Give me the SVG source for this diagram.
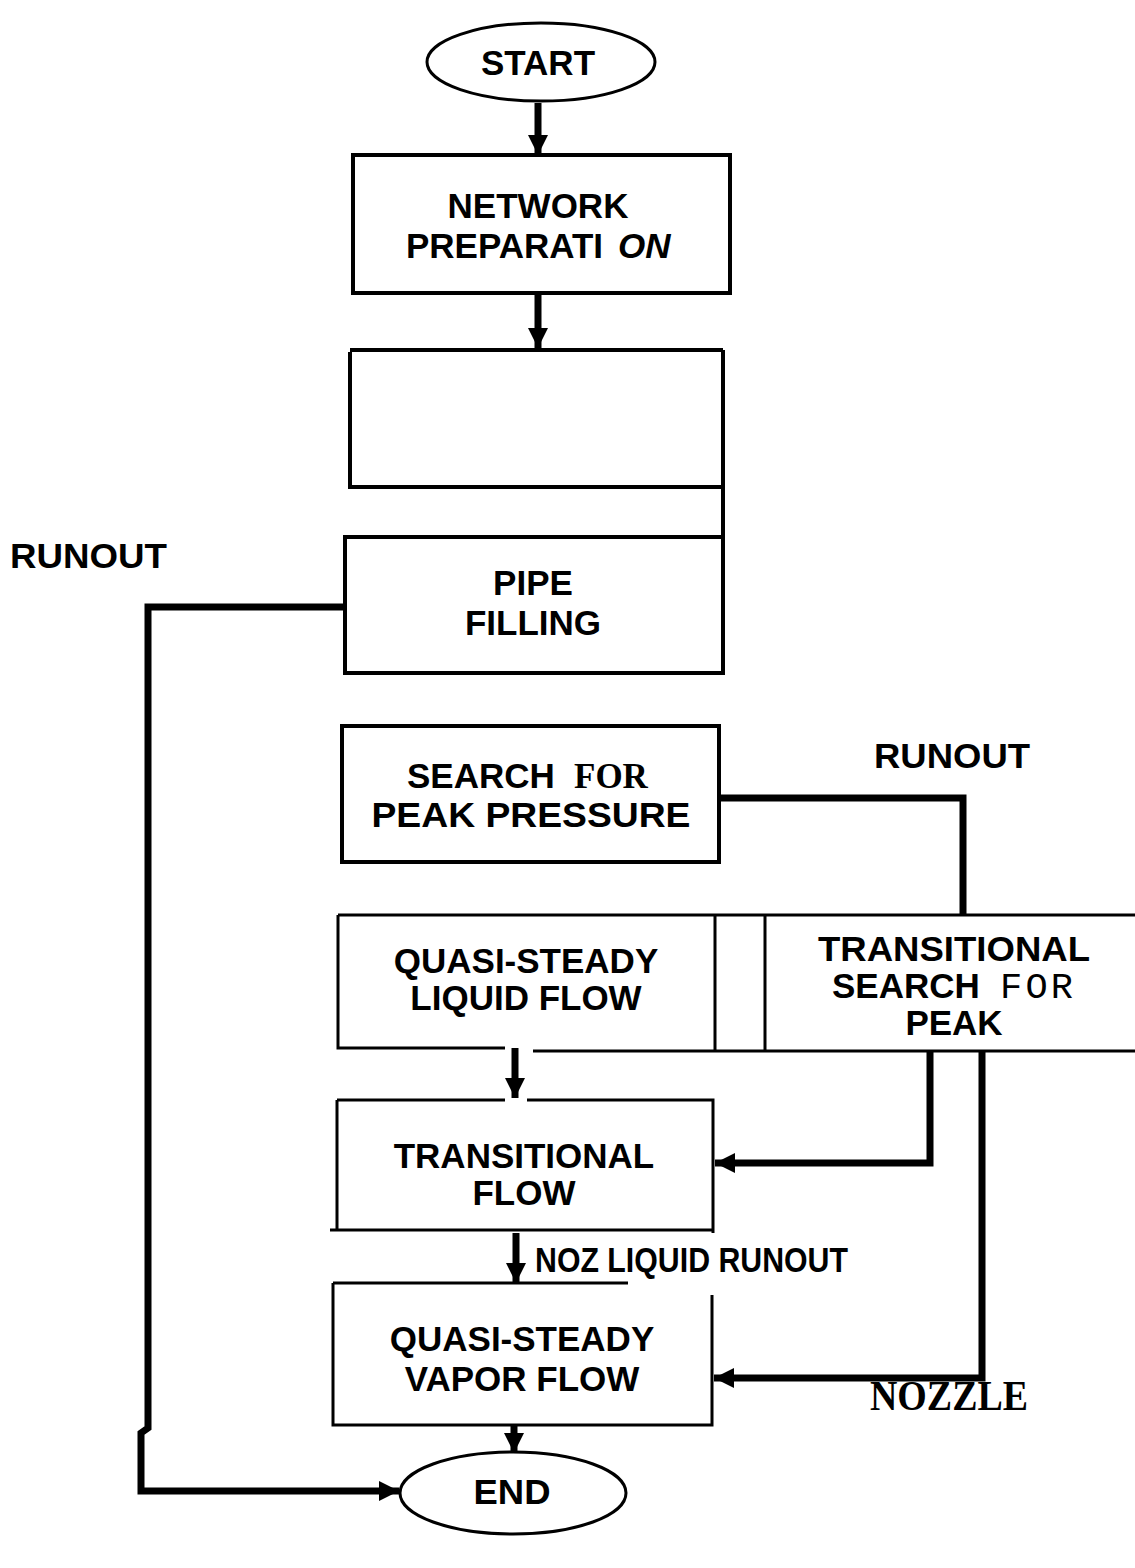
<svg xmlns="http://www.w3.org/2000/svg" width="1135" height="1568" viewBox="0 0 1135 1568">
<style>
.box{fill:none;stroke:#000;stroke-width:4}
.thin{fill:none;stroke:#000;stroke-width:3}
.conn{fill:none;stroke:#000;stroke-width:7}
.t{font-family:"Liberation Sans",Arial,sans-serif;font-weight:bold;font-size:35px;fill:#000}
.serif{font-family:"Liberation Serif","Times New Roman",serif}
.mono{font-family:"Liberation Mono","Courier New",monospace;font-weight:normal}
</style>
<defs>
<marker id="ah" viewBox="0 0 20 20" refX="20" refY="10" markerWidth="22" markerHeight="20" markerUnits="userSpaceOnUse" orient="auto">
<path d="M0,0 L20,10 L0,20 z" fill="#000"/>
</marker>
</defs>
<rect width="1135" height="1568" fill="#fff"/>

<g id="connectors">
<path class="conn" d="M538,103 V155" stroke-width="6" marker-end="url(#ah)"/>
<path class="conn" d="M538,293 V348" stroke-width="6" marker-end="url(#ah)"/>
<path class="conn" d="M345,607 H148 V1428 L141,1433 V1491 H399" stroke-width="7" marker-end="url(#ah)"/>
<path class="conn" d="M719,798 H963 V915" stroke-width="7"/>
<path class="conn" d="M515,1048 V1098" stroke-width="6" marker-end="url(#ah)"/>
<path class="conn" d="M930,1051 V1163 H715" stroke-width="7" marker-end="url(#ah)"/>
<path class="conn" d="M982,1051 V1378 H714" stroke-width="7" marker-end="url(#ah)"/>
<path class="conn" d="M516,1233 V1283" stroke-width="6" marker-end="url(#ah)"/>
<path class="conn" d="M514,1426 V1453" stroke-width="6" marker-end="url(#ah)"/>
</g>

<g id="start">
<ellipse cx="541" cy="62" rx="114" ry="39" class="thin"/>
<text class="t" x="538" y="75" text-anchor="middle">START</text>
</g>

<g id="network-preparation">
<rect x="353" y="155" width="377" height="138" class="box"/>
<text class="t" x="538" y="218" text-anchor="middle">NETWORK</text>
<text class="t" x="406" y="258">PREPARATI<tspan x="618" font-style="italic">ON</tspan></text>
</g>

<g id="blank-box">
<path class="box" d="M350,350 H723 M350,352 V487 H723 M723,350 V537"/>
</g>

<g id="pipe-filling">
<rect x="345" y="537" width="378" height="136" class="box"/>
<text class="t" x="533" y="595" text-anchor="middle">PIPE</text>
<text class="t" x="533" y="635" text-anchor="middle">FILLING</text>
</g>

<g id="runout-left">
<text class="t" x="10" y="568" textLength="157" lengthAdjust="spacingAndGlyphs">RUNOUT</text>
</g>

<g id="search-peak-pressure">
<rect x="342" y="726" width="377" height="136" class="box"/>
<text class="t" x="407" y="788">SEARCH<tspan class="serif" x="574">FOR</tspan></text>
<text class="t" x="531" y="827" text-anchor="middle" textLength="319" lengthAdjust="spacingAndGlyphs">PEAK PRESSURE</text>
</g>

<g id="runout-right">
<text class="t" x="874" y="768" textLength="156" lengthAdjust="spacingAndGlyphs">RUNOUT</text>
</g>

<g id="quasi-steady-liquid">
<path class="thin" d="M338,915 H1135 M338,915 V1048 H505 M533,1051 H1135 M715,915 V1051 M765,915 V1051"/>
<text class="t" x="526" y="973" text-anchor="middle">QUASI-STEADY</text>
<text class="t" x="526" y="1010" text-anchor="middle">LIQUID FLOW</text>
</g>

<g id="transitional-search">
<text class="t" x="954" y="961" font-size="34" text-anchor="middle" textLength="272" lengthAdjust="spacingAndGlyphs">TRANSITIONAL</text>
<text class="t" x="832" y="998" font-size="34">SEARCH<tspan class="mono" x="1000" textLength="73" font-size="37">FOR</tspan></text>
<text class="t" x="954" y="1035" font-size="34" text-anchor="middle">PEAK</text>
</g>

<g id="transitional-flow">
<path class="thin" d="M337,1100 H505 M527,1100 H713 V1233 M337,1100 V1230 M330,1230 H713"/>
<text class="t" x="524" y="1168" text-anchor="middle">TRANSITIONAL</text>
<text class="t" x="524" y="1205" text-anchor="middle">FLOW</text>
</g>

<g id="noz-label">
<text class="t" x="535" y="1272" font-size="25" textLength="313" lengthAdjust="spacingAndGlyphs">NOZ LIQUID RUNOUT</text>
</g>

<g id="quasi-steady-vapor">
<path class="thin" d="M333,1283 H628 M333,1283 V1425 H712 V1295"/>
<text class="t" x="522" y="1351" text-anchor="middle">QUASI-STEADY</text>
<text class="t" x="522" y="1391" text-anchor="middle">VAPOR FLOW</text>
</g>

<g id="nozzle-label">
<text class="serif" x="870" y="1410" font-size="42" font-weight="bold" textLength="158" lengthAdjust="spacingAndGlyphs">NOZZLE</text>
</g>

<g id="end">
<ellipse cx="513" cy="1493" rx="113" ry="41" class="thin"/>
<text class="t" x="512" y="1504" font-size="30" text-anchor="middle" textLength="77" lengthAdjust="spacingAndGlyphs">END</text>
</g>
</svg>
